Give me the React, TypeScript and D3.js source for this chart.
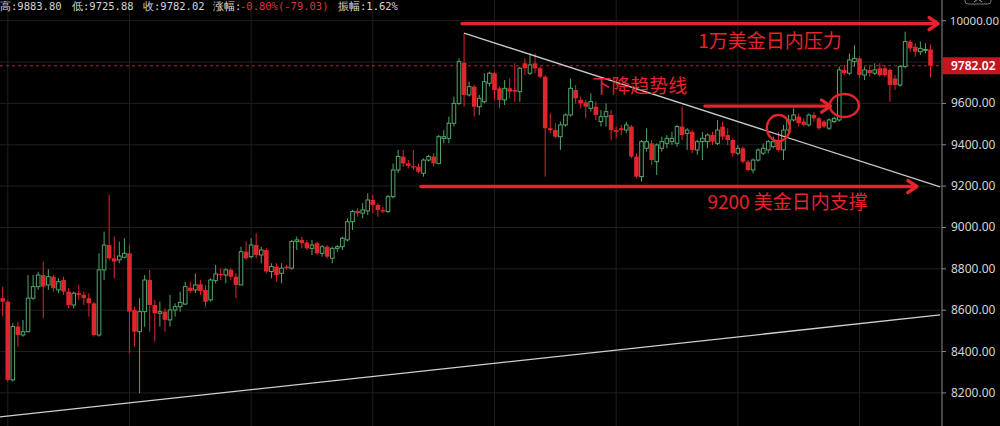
import React from 'react';
import * as d3 from 'd3';

// ---- data ----
const opens = [
  8658, 8641, 8263, 8521, 8480, 8496, 8658, 8714, 8770, 8722,
  8762, 8698, 8746, 8690, 8625, 8682, 8674, 8658, 8633, 8480,
  8795, 8915, 8851, 8843, 8856, 8875, 8601, 8496, 8593, 8746,
  8625, 8585, 8593, 8553, 8601, 8617, 8630, 8709, 8698, 8725,
  8698, 8650, 8743, 8775, 8770, 8795, 8762, 8722, 8883, 8859,
  8915, 8867, 8891, 8787, 8811, 8778, 8811, 8803, 8932, 8940,
  8927, 8899, 8924, 8875, 8907, 8851, 8899, 8907, 8940, 9028,
  9080, 9069, 9080, 9133, 9109, 9085, 9077, 9149, 9278, 9343,
  9310, 9297, 9294, 9262, 9326, 9343, 9310, 9431, 9431, 9504,
  9600, 9797, 9641, 9681, 9584, 9608, 9697, 9746, 9673, 9617,
  9673, 9665, 9657, 9794, 9746, 9794, 9770, 9729, 9480, 9471,
  9439, 9496, 9544, 9665, 9617, 9605, 9576, 9584, 9512, 9536,
  9544, 9471, 9480, 9471, 9488, 9343, 9246, 9383, 9407, 9318,
  9383, 9407, 9415, 9407, 9488, 9455, 9463, 9375, 9415, 9415,
  9447, 9407, 9488, 9447, 9423, 9359, 9383, 9318, 9278, 9326,
  9359, 9375, 9391, 9423, 9375, 9471, 9520, 9536, 9512, 9496,
  9544, 9528, 9512, 9480, 9512, 9520, 9762, 9746, 9802, 9818,
  9737, 9762, 9746, 9770, 9770, 9762, 9721, 9689, 9778, 9899,
  9874, 9850, 9858, 9861.05,
];
const highs = [
  8714, 8650, 8537, 8545, 8553, 8770, 8770, 8786, 8835, 8798,
  8770, 8754, 8762, 8706, 8690, 8722, 8690, 8682, 8641, 8875,
  8980, 9157, 8956, 8932, 8948, 8915, 8617, 8658, 8770, 8795,
  8650, 8641, 8609, 8674, 8633, 8690, 8738, 8738, 8778, 8746,
  8722, 8754, 8819, 8803, 8803, 8803, 8778, 8907, 8932, 8948,
  8972, 8907, 8899, 8827, 8827, 8827, 8819, 8940, 8956, 8956,
  8940, 8940, 8932, 8915, 8915, 8907, 8915, 8956, 9044, 9085,
  9093, 9117, 9165, 9157, 9117, 9101, 9157, 9310, 9375, 9375,
  9326, 9375, 9310, 9334, 9351, 9359, 9447, 9471, 9536, 9633,
  9818, 9940, 9705, 9689, 9641, 9746, 9754, 9754, 9681, 9713,
  9721, 9794, 9778, 9818, 9842, 9842, 9778, 9737, 9552, 9504,
  9512, 9552, 9721, 9689, 9633, 9617, 9649, 9609, 9568, 9600,
  9568, 9488, 9496, 9512, 9496, 9359, 9423, 9480, 9423, 9407,
  9439, 9447, 9463, 9496, 9584, 9480, 9471, 9423, 9463, 9455,
  9463, 9520, 9512, 9480, 9431, 9399, 9391, 9326, 9334, 9383,
  9407, 9423, 9439, 9463, 9496, 9544, 9576, 9552, 9528, 9552,
  9560, 9536, 9520, 9528, 9536, 9778, 9786, 9842, 9882, 9826,
  9778, 9786, 9794, 9794, 9786, 9770, 9737, 9786, 9947, 9907,
  9891, 9899, 9891, 9883.8,
];
const lows = [
  8569, 8255, 8255, 8424, 8472, 8493, 8650, 8698, 8561, 8698,
  8690, 8682, 8674, 8609, 8609, 8650, 8625, 8569, 8472, 8472,
  8746, 8843, 8754, 8827, 8851, 8392, 8424, 8198, 8520, 8496,
  8448, 8521, 8496, 8521, 8569, 8593, 8625, 8682, 8682, 8674,
  8617, 8641, 8730, 8746, 8730, 8746, 8658, 8722, 8843, 8851,
  8851, 8827, 8778, 8754, 8738, 8730, 8795, 8795, 8891, 8899,
  8891, 8867, 8867, 8859, 8851, 8827, 8883, 8891, 8932, 8988,
  9052, 9044, 9060, 9069, 9052, 9069, 9069, 9141, 9262, 9294,
  9286, 9278, 9262, 9246, 9318, 9294, 9306, 9407, 9407, 9488,
  9592, 9584, 9633, 9536, 9544, 9600, 9681, 9617, 9576, 9592,
  9625, 9608, 9608, 9737, 9737, 9746, 9721, 9246, 9455, 9431,
  9375, 9488, 9536, 9600, 9576, 9528, 9560, 9520, 9488, 9488,
  9423, 9431, 9447, 9455, 9334, 9238, 9222, 9367, 9302, 9254,
  9367, 9383, 9399, 9391, 9423, 9375, 9359, 9351, 9326, 9383,
  9399, 9399, 9423, 9399, 9343, 9351, 9310, 9270, 9262, 9318,
  9351, 9359, 9383, 9367, 9326, 9463, 9512, 9488, 9488, 9488,
  9512, 9471, 9480, 9471, 9504, 9512, 9737, 9737, 9778, 9721,
  9713, 9729, 9737, 9729, 9729, 9608, 9665, 9681, 9770, 9850,
  9826, 9834, 9842, 9725.88,
];
const closes = [
  8641, 8263, 8521, 8480, 8496, 8658, 8714, 8770, 8714, 8762,
  8706, 8738, 8690, 8625, 8682, 8674, 8658, 8633, 8480, 8795,
  8915, 8851, 8835, 8862, 8875, 8593, 8496, 8593, 8746, 8625,
  8585, 8593, 8553, 8601, 8617, 8638, 8714, 8693, 8722, 8693,
  8641, 8746, 8775, 8770, 8795, 8762, 8722, 8883, 8851, 8915,
  8867, 8891, 8787, 8811, 8770, 8803, 8803, 8932, 8940, 8924,
  8899, 8915, 8875, 8907, 8859, 8899, 8907, 8948, 9028, 9077,
  9069, 9085, 9133, 9109, 9085, 9077, 9149, 9278, 9343, 9310,
  9298, 9290, 9270, 9326, 9343, 9310, 9439, 9439, 9504, 9600,
  9802, 9641, 9681, 9584, 9625, 9705, 9746, 9665, 9617, 9673,
  9657, 9657, 9770, 9770, 9786, 9770, 9729, 9480, 9471, 9439,
  9496, 9544, 9673, 9625, 9600, 9584, 9609, 9544, 9536, 9560,
  9471, 9463, 9471, 9496, 9343, 9246, 9415, 9415, 9326, 9399,
  9415, 9431, 9431, 9488, 9447, 9471, 9375, 9415, 9431, 9447,
  9415, 9471, 9439, 9423, 9359, 9383, 9318, 9278, 9326, 9375,
  9383, 9415, 9415, 9375, 9471, 9520, 9544, 9504, 9496, 9544,
  9528, 9480, 9488, 9520, 9528, 9762, 9746, 9810, 9818, 9737,
  9762, 9746, 9762, 9737, 9737, 9689, 9689, 9778, 9899, 9866,
  9850, 9866, 9861.05, 9782.02,
];

const priceTicks = [8200, 8400, 8600, 8800, 9000, 9200, 9400, 9600, 9800, 10000];
const timeGridIndices = [1, 25, 49, 73, 97, 121, 145, 169];
const lastPrice = 9782.02;

const headerItems = ['高:9883.80', '低:9725.88', '收:9782.02', '涨幅:', '-0.80%(-79.03)', '振幅:1.62%'];

// annotation anchors: [index, price]
const trendLine: [number, number][] = [[91, 9940], [184.9, 9196]];
const supportLine: [number, number][] = [[-0.53, 8084], [184.9, 8577]];
const arrows: { from: number; to: number; price: number }[] = [
  { from: 90.6, to: 184.5, price: 9986 },
  { from: 138.5, to: 163.3, price: 9587 },
  { from: 82.5, to: 180.3, price: 9198 },
];
const circles: { idx: number; price: number; rx: number; ry: number }[] = [
  { idx: 153.0, price: 9481, rx: 11.5, ry: 13 },
  { idx: 166.0, price: 9590, rx: 14.5, ry: 11.5 },
];
const labels: { text: string; idx: number; price: number }[] = [
  { text: '1万美金日内压力', idx: 137.2, price: 9869 },
  { text: '下降趋势线', idx: 116.3, price: 9650 },
  { text: '9200 美金日内支撑', idx: 139.0, price: 9087 },
];

const W = 1000;
const H = 426;
const AXIS_X = 942;

export default function App() {
  const n = closes.length;
  const x = d3.scaleLinear().domain([0, n - 1]).range([2.7, 2.7 + 5.07 * (n - 1)]);
  const y = d3.scaleLinear().domain([8200, 10000]).range([392.9, 20.7]);

  const RED = '#e0262d';
  const GREEN = '#52a66a';
  const ANN = '#e8232b';
  const bw = 3.6;

  const line = d3.line<[number, number]>().x((d) => x(d[0])).y((d) => y(d[1]));

  return (
    <svg
      width={W}
      height={H}
      style={{ position: 'absolute', left: 0, top: 0, background: '#000', display: 'block' }}
    >
      <rect x={0} y={0} width={W} height={H} fill="#000" />
      {/* grid */}
      {priceTicks.map((p) => (
        <line key={'h' + p} x1={0} x2={AXIS_X} y1={y(p)} y2={y(p)} stroke="#1f1f1f" strokeWidth={1} />
      ))}
      {timeGridIndices.map((i) => (
        <line key={'v' + i} x1={x(i)} x2={x(i)} y1={0} y2={H} stroke="#1f1f1f" strokeWidth={1} />
      ))}

      {/* last price dashed line */}
      <line
        x1={0}
        x2={AXIS_X}
        y1={y(lastPrice)}
        y2={y(lastPrice)}
        stroke="#b5262b"
        strokeWidth={1}
        strokeDasharray="3,3"
      />

      {/* candles */}
      {closes.map((c, i) => {
        const o = opens[i];
        const up = c >= o;
        const cx = x(i);
        const top = y(Math.max(o, c));
        const bot = y(Math.min(o, c));
        const h = Math.max(1, bot - top);
        const col = up ? GREEN : RED;
        return (
          <g key={i}>
            <line x1={cx} x2={cx} y1={y(highs[i])} y2={y(lows[i])} stroke={col} strokeWidth={1} />
            {up ? (
              <rect x={cx - bw / 2} y={top} width={bw} height={h} fill="#000" stroke={col} strokeWidth={1} />
            ) : (
              <rect x={cx - bw / 2 - 0.5} y={top} width={bw + 1} height={h} fill={col} />
            )}
          </g>
        );
      })}

      {/* trend & support lines */}
      <path d={line(trendLine) || ''} stroke="#c8c8c8" strokeWidth={1.3} fill="none" />
      <path d={line(supportLine) || ''} stroke="#d0d0d0" strokeWidth={1.3} fill="none" />

      {/* arrows */}
      {arrows.map((a, k) => {
        const yy = y(a.price);
        const x1 = x(a.from);
        const x2 = x(a.to);
        return (
          <g key={'a' + k} stroke={ANN} strokeWidth={3.4} fill="none" strokeLinecap="round" strokeLinejoin="round">
            <line x1={x1} x2={x2 - 1} y1={yy} y2={yy} />
            <polyline points={`${x2 - 9},${yy - 6} ${x2},${yy} ${x2 - 9},${yy + 6}`} />
          </g>
        );
      })}

      {/* circles */}
      {circles.map((c, k) => (
        <ellipse key={'c' + k} cx={x(c.idx)} cy={y(c.price)} rx={c.rx} ry={c.ry} fill="none" stroke={ANN} strokeWidth={2.4} />
      ))}

      {/* labels */}
      {labels.map((l, k) => (
        <text
          key={'l' + k}
          x={x(l.idx)}
          y={y(l.price)}
          fill={ANN}
          fontSize={19}
          fontFamily="'Noto Sans CJK SC', 'Noto Sans', sans-serif"
        >
          {l.text}
        </text>
      ))}

      {/* right axis */}
      <line x1={AXIS_X} x2={AXIS_X} y1={0} y2={H} stroke="#8a8a8a" strokeWidth={1} />
      {priceTicks.filter((p) => p !== 9800).map((p) => (
        <g key={'t' + p}>
          <line x1={AXIS_X} x2={AXIS_X + 4} y1={y(p)} y2={y(p)} stroke="#8a8a8a" strokeWidth={1} />
          <text
            x={p >= 10000 ? 999 : 951}
            y={y(p) + 4}
            textAnchor={p >= 10000 ? 'end' : 'start'}
            fill="#d4d4d4"
            fontSize={p >= 10000 ? 11.5 : 12}
            fontFamily="'Noto Sans', 'Open Sans', sans-serif"
          >
            {d3.format('.2f')(p)}
          </text>
        </g>
      ))}
      <rect x={AXIS_X + 0.5} y={y(lastPrice) - 8.5} width={W - AXIS_X} height={17} fill="#c4161e" />
      <text
        x={951}
        y={y(lastPrice) + 4.5}
        fill="#fff"
        fontSize={12}
        fontWeight={600}
        fontFamily="'Noto Sans', 'Open Sans', sans-serif"
      >
        {d3.format('.2f')(lastPrice)}
      </text>

      {/* top-right small button */}
      <rect x={965} y={-6} width={26} height={10} rx={3} fill="none" stroke="#777" strokeWidth={1} />
      <polyline points="974,2 978,-1 982,2" stroke="#aaa" fill="none" strokeWidth={1} />

      {/* header */}
      <g fontFamily="'DejaVu Sans Mono', monospace" fontSize={10.5}>
        <text x={0} y={10} fill="#d6d6d6">{headerItems[0]}</text>
        <text x={72} y={10} fill="#d6d6d6">{headerItems[1]}</text>
        <text x={143} y={10} fill="#d6d6d6">{headerItems[2]}</text>
        <text x={213} y={10} fill="#d6d6d6">{headerItems[3]}</text>
        <text x={240} y={10} fill="#d9383f">{headerItems[4]}</text>
        <text x={338} y={10} fill="#d6d6d6">{headerItems[5]}</text>
      </g>
    </svg>
  );
}
